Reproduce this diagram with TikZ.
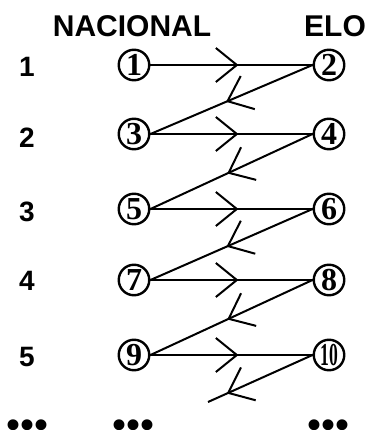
\documentclass[tikz,border=0pt]{standalone}
\usepackage{fontspec}
\setmainfont{Liberation Sans}
\newfontfamily\circfont{Liberation Serif}
\usetikzlibrary{arrows.meta,decorations.markings}

\begin{document}
\begin{tikzpicture}[x=1pt,y=-1pt,
    head/.style={font=\fontsize{30}{30}\selectfont\bfseries},
    rownum/.style={font=\fontsize{28}{28}\selectfont\bfseries},
    circnum/.style={circle, draw, line width=2.4pt, minimum size=30.5pt, inner sep=0pt,
      font=\circfont\fontsize{32}{32}\selectfont\bfseries},
    more/.style={inner sep=0pt, font=\fontsize{40}{40}\selectfont},
    fwd/.style={line width=2pt, postaction={decorate}, decoration={markings,
      mark=at position 88pt with {\arrow{Straight Barb[length=21pt,width=34pt]}}}},
    back/.style={line width=2pt, postaction={decorate}, decoration={markings,
      mark=at position 94pt with {\arrow{Straight Barb[length=22pt,width=36pt]}}}}]
    \useasboundingbox (0,0) rectangle (368,430);

    % headings
    \node[head] (nac) at (132,26) {NACIONAL};
    \node[head] (elo) at (335,26) {ELO};

    % row numbers
    \node[rownum] (n1) at (27,67) {1};
    \node[rownum] (n2) at (27,138) {2};
    \node[rownum] (n3) at (27,212) {3};
    \node[rownum] (n4) at (27,281) {4};
    \node[rownum] (n5) at (27,357) {5};

    % circled numbers
    \node[circnum] (c1) at (134,65) {1};
    \node[circnum] (c2) at (329,65) {2};
    \node[circnum] (c3) at (134,134) {3};
    \node[circnum] (c4) at (329,134) {4};
    \node[circnum] (c5) at (134,209) {5};
    \node[circnum] (c6) at (329,209) {6};
    \node[circnum] (c7) at (134,280) {7};
    \node[circnum] (c8) at (329,280) {8};
    \node[circnum] (c9) at (134,355) {9};
    \node[circnum] (c10) at (329,355) {\scalebox{0.55}[1]{10}};

    % zig-zag
    \draw[fwd] (c1.east) -- (c2.west);
    \draw[back] (c2.west) -- (c3.east);
    \draw[fwd] (c3.east) -- (c4.west);
    \draw[back] (c4.west) -- (c5.east);
    \draw[fwd] (c5.east) -- (c6.west);
    \draw[back] (c6.west) -- (c7.east);
    \draw[fwd] (c7.east) -- (c8.west);
    \draw[back] (c8.west) -- (c9.east);
    \draw[fwd] (c9.east) -- (c10.west);
    \coordinate (last) at (208,402);
    \draw[back] (c10.west) -- (last);

    % dots
    \node[more] (d1) at (28,429) {•••};
    \node[more] (d2) at (134,429) {•••};
    \node[more] (d3) at (328,429) {•••};
\end{tikzpicture}
\end{document}
